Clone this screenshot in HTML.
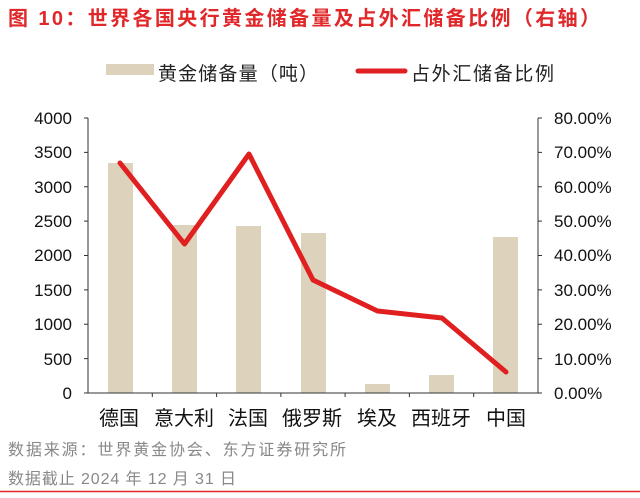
<!DOCTYPE html>
<html><head><meta charset="utf-8"><style>
body{margin:0;background:#fff;width:640px;height:493px;overflow:hidden;font-family:"Liberation Sans","Noto Sans CJK SC",sans-serif;}
</style></head><body>
<svg width="640" height="493" xmlns="http://www.w3.org/2000/svg" font-family="Liberation Sans, Noto Sans CJK SC, sans-serif">
<text x="8" y="25" font-size="20" font-weight="bold" fill="#E0282B" textLength="592" lengthAdjust="spacing">图 10：世界各国央行黄金储备量及占外汇储备比例（右轴）</text>
<rect x="106" y="64" width="48" height="11" fill="#DDD3BC"/>
<text x="158" y="80" font-size="19" fill="#222" textLength="160" lengthAdjust="spacing">黄金储备量（吨）</text>
<line x1="358" y1="71" x2="405" y2="71" stroke="#E02020" stroke-width="5" stroke-linecap="round"/>
<text x="411" y="80" font-size="19" fill="#222" textLength="143" lengthAdjust="spacing">占外汇储备比例</text>
<g fill="#DDD3BC">
<rect x="108" y="163" width="25" height="230"/>
<rect x="172" y="225" width="25" height="168"/>
<rect x="236" y="226" width="25" height="167"/>
<rect x="301" y="233" width="25" height="160"/>
<rect x="365" y="384" width="25" height="9"/>
<rect x="429" y="375" width="25" height="18"/>
<rect x="493" y="237" width="25" height="156"/>
</g>
<g stroke="#333" stroke-width="1" fill="none">
<path d="M88 118V393H538V118"/>
<path d="M84 118H88M84 152.4H88M84 186.8H88M84 221.1H88M84 255.5H88M84 289.9H88M84 324.3H88M84 358.6H88M84 393H88"/>
<path d="M538 118H542M538 152.4H542M538 186.8H542M538 221.1H542M538 255.5H542M538 289.9H542M538 324.3H542M538 358.6H542M538 393H542"/>
<path d="M152.3 393V397M216.6 393V397M280.9 393V397M345.1 393V397M409.4 393V397M473.7 393V397"/>
</g>
<g font-size="17" fill="#111" text-anchor="end">
<text x="72" y="124">4000</text><text x="72" y="158">3500</text><text x="72" y="193">3000</text><text x="72" y="227">2500</text><text x="72" y="261">2000</text><text x="72" y="296">1500</text><text x="72" y="330">1000</text><text x="72" y="365">500</text><text x="72" y="399">0</text>
</g>
<g font-size="17" fill="#111">
<text x="554" y="124">80.00%</text><text x="554" y="158">70.00%</text><text x="554" y="193">60.00%</text><text x="554" y="227">50.00%</text><text x="554" y="261">40.00%</text><text x="554" y="296">30.00%</text><text x="554" y="330">20.00%</text><text x="554" y="365">10.00%</text><text x="554" y="399">0.00%</text>
</g>
<polyline points="120,163 184.5,244 249,154 313,280 377.5,311 442,318 506,372" fill="none" stroke="#E02020" stroke-width="5" stroke-linejoin="round" stroke-linecap="round"/>
<g font-size="20" fill="#111" text-anchor="middle">
<text x="119" y="425">德国</text><text x="184" y="425">意大利</text><text x="248" y="425">法国</text><text x="312" y="425">俄罗斯</text><text x="377" y="425">埃及</text><text x="441" y="425">西班牙</text><text x="506" y="425">中国</text>
</g>
<text x="8" y="455" font-size="16" fill="#888" textLength="338" lengthAdjust="spacing">数据来源：世界黄金协会、东方证券研究所</text>
<text x="8" y="484" font-size="16" fill="#888" textLength="228" lengthAdjust="spacing">数据截止 2024 年 12 月 31 日</text>
<line x1="0" y1="491.5" x2="640" y2="491.5" stroke="#E0282B" stroke-width="1.5"/>
</svg>
</body></html>
